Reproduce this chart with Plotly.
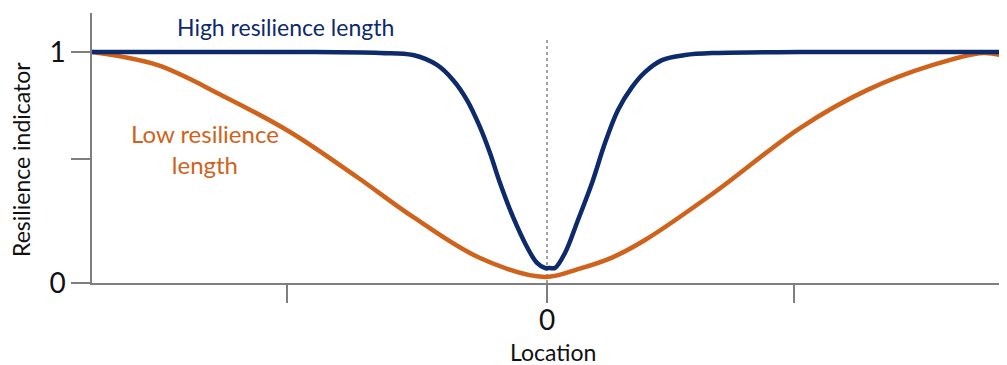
import plotly.graph_objects as go

# location (arbitrary units, 0 = centre) and resilience indicator values
high_x = [-4.55, -3.47, -2.47, -1.67, -1.34, -1.10, -0.94, -0.80, -0.67, -0.57, -0.47,
          -0.34, -0.20, -0.10, -0.02, 0.03, 0.08, 0.18, 0.31, 0.45, 0.58, 0.71, 0.85,
          0.98, 1.15, 1.38, 1.68, 2.53, 4.56]
high_y = [1.0, 1.0, 1.0, 0.996, 0.987, 0.944, 0.879, 0.792, 0.675, 0.563, 0.433,
          0.286, 0.156, 0.087, 0.065, 0.065, 0.065, 0.130, 0.273, 0.433, 0.606, 0.749, 0.848,
          0.913, 0.965, 0.987, 0.996, 1.0, 1.0]

low_x = [-4.55, -3.90, -3.24, -2.57, -1.90, -1.34, -0.67, -0.02,
         0.31, 0.65, 0.98, 1.68, 2.53, 3.20, 3.86, 4.36, 4.53]
low_y = [1.0, 0.944, 0.81, 0.654, 0.459, 0.286, 0.108, 0.026,
         0.060, 0.110, 0.186, 0.394, 0.671, 0.835, 0.944, 0.996, 0.987]

x_ticks = [-2.6, 0, 2.47]
x_ticktext = ["", "0", ""]
y_ticks = [0, 0.535, 1]
y_ticktext = ["0", "", "1"]

NAVY = "#0d2a6c"
ORANGE = "#d0631c"
AXIS = "#7f7f7f"
FONT = "Lato"

# page body has an 8px margin, so the figure is 8px smaller and shifted
W, H = 999, 357
L, T, B = 84, 5, 82
PW, PH = W - L, H - T - B

fig = go.Figure()
fig.add_trace(go.Scatter(x=low_x, y=low_y, mode="lines", line_shape="spline",
                         line=dict(color=ORANGE, width=4.5), showlegend=False))
fig.add_trace(go.Scatter(x=high_x, y=high_y, mode="lines", line_shape="spline",
                         line=dict(color=NAVY, width=4.5), showlegend=False))

# dotted centre line
fig.add_shape(type="line", x0=0, x1=0, y0=0, y1=1.06, xref="x", yref="y",
              line=dict(color="#444", width=1, dash="dot"), layer="below")

fig.add_annotation(text="High resilience length", x=-2.62, y=1.11, xref="x", yref="y",
                   showarrow=False, font=dict(family=FONT, size=23, color=NAVY))
fig.add_annotation(text="Low resilience<br>length", x=-3.42, y=0.58, xref="x", yref="y",
                   showarrow=False, font=dict(family=FONT, size=24, color=ORANGE))

fig.add_annotation(text="Resilience indicator", textangle=-90,
                   x=(21 - 92) / PW, y=0.4556, xref="paper", yref="paper",
                   xanchor="center", yanchor="middle", showarrow=False,
                   font=dict(family=FONT, size=23, color="#111"))
fig.add_annotation(text="Location", x=(553 - 92) / PW, y=(283 - 352) / PH,
                   xref="paper", yref="paper", xanchor="center", yanchor="middle",
                   showarrow=False, font=dict(family=FONT, size=23, color="#111"))

fig.update_layout(
    width=W, height=H,
    margin=dict(l=L, r=0, t=T, b=B),
    paper_bgcolor="white", plot_bgcolor="white",
    font=dict(family=FONT, color="#111"),
)

fig.update_xaxes(range=[-4.55, 4.60], showgrid=False, zeroline=False,
                 showline=True, linecolor=AXIS, linewidth=1.5,
                 tickmode="array", tickvals=x_ticks, ticktext=x_ticktext,
                 ticks="outside", ticklen=18, tickcolor=AXIS, tickwidth=1.5,
                 ticklabelstandoff=-6,
                 tickfont=dict(family=FONT, size=28, color="#111"))
fig.update_yaxes(range=[0, 1.169], showgrid=False, zeroline=False,
                 showline=True, linecolor=AXIS, linewidth=1.5,
                 tickmode="array", tickvals=y_ticks, ticktext=y_ticktext,
                 ticks="outside", ticklen=19, tickcolor=AXIS, tickwidth=1.5,
                 tickfont=dict(family=FONT, size=28, color="#111"))

fig.write_html("out.html")
